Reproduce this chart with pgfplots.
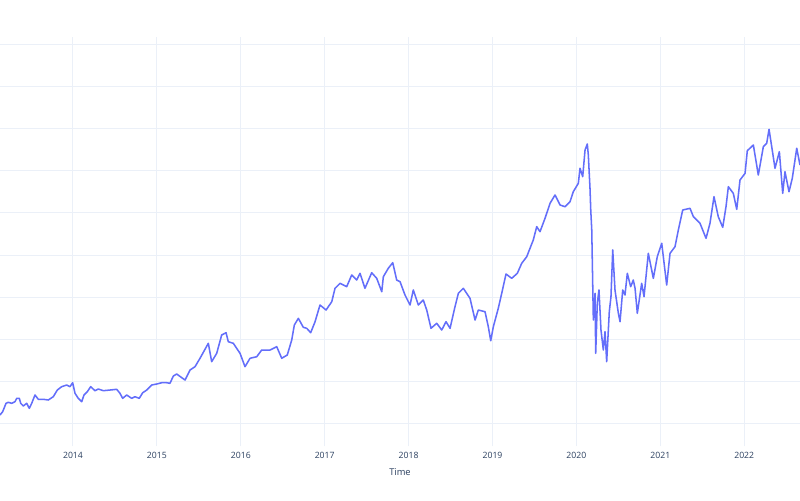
\documentclass[border=0pt]{standalone}
\usepackage{fontspec}
\setmainfont{Open Sans}
\usepackage{pgfplots}
\pgfplotsset{compat=1.18}
\definecolor{plline}{HTML}{636EFA}
\definecolor{plgrid}{HTML}{EBF0F8}
\definecolor{pltext}{HTML}{2A3F5F}
\begin{document}
\begin{tikzpicture}
\path[use as bounding box] (0,-40.5pt) rectangle (600pt,334.5pt);
\fill[white] (0,-40.5pt) rectangle (600pt,334.5pt);
\begin{axis}[
  at={(0,0)}, anchor=south west,
  scale only axis,
  width=600pt, height=306.75pt,
  xmin=2013.130, xmax=2022.665,
  ymin=4.71, ymax=101.74,
  axis line style={draw=none},
  xtick={2014,2015,2016,2017,2018,2019,2020,2021,2022},
  xticklabels={2014,2015,2016,2017,2018,2019,2020,2021,2022},
  ytick={10,20,30,40,50,60,70,80,90,100},
  yticklabels={},
  major tick length=0pt,
  grid=major,
  major grid style={draw=plgrid, line width=0.75pt},
  x tick label style={font=\fontsize{6.5}{7}\selectfont, text=pltext, anchor=center, yshift=-6.75pt},
  xlabel={Time},
  xlabel style={font=\fontsize{7}{8}\selectfont, text=pltext, at={(axis description cs:0.5,0)}, anchor=center, yshift=-19.5pt},
  clip=true,
]
\addplot[color=plline, line width=1.15pt, line join=round] coordinates {
(2013.130,12.06)(2013.162,12.85)(2013.202,14.84)(2013.229,15.07)(2013.269,14.84)
(2013.309,15.22)(2013.329,16.02)(2013.360,16.02)(2013.377,14.84)(2013.408,14.20)
(2013.448,14.84)(2013.479,13.65)(2013.508,14.84)(2013.547,16.81)(2013.587,15.79)
(2013.646,15.79)(2013.706,15.62)(2013.765,16.40)(2013.813,17.99)(2013.865,18.78)
(2013.925,19.18)(2013.964,18.78)(2013.996,19.72)(2014.024,17.21)(2014.063,16.02)
(2014.104,15.22)(2014.131,16.81)(2014.171,17.59)(2014.211,18.78)(2014.262,17.83)
(2014.302,18.23)(2014.361,17.83)(2014.441,17.99)(2014.521,18.16)(2014.560,17.21)
(2014.592,16.02)(2014.640,16.81)(2014.700,16.02)(2014.739,16.40)(2014.790,16.02)
(2014.831,17.35)(2014.879,17.99)(2014.938,19.18)(2014.998,19.42)(2015.057,19.72)
(2015.117,19.72)(2015.156,19.58)(2015.196,21.31)(2015.236,21.79)
(2015.335,20.36)(2015.395,22.74)(2015.454,23.52)(2015.514,25.52)
(2015.613,29.07)(2015.653,24.71)(2015.713,26.70)(2015.772,31.04)(2015.824,31.59)
(2015.851,29.45)(2015.911,29.07)(2015.991,26.70)(2016.050,23.52)(2016.110,25.52)
(2016.190,25.89)(2016.249,27.48)(2016.348,27.48)(2016.428,28.27)(2016.488,25.52)
(2016.554,26.30)(2016.607,29.85)(2016.638,33.41)(2016.686,35.00)(2016.745,32.87)
(2016.786,32.63)(2016.833,31.59)(2016.885,34.20)(2016.944,38.16)(2017.016,36.97)
(2017.084,38.94)(2017.123,42.12)(2017.183,43.31)(2017.262,42.50)(2017.322,45.28)
(2017.382,44.09)(2017.421,45.68)(2017.480,42.12)(2017.560,45.82)(2017.620,44.49)
(2017.680,41.31)(2017.699,44.87)(2017.758,46.87)(2017.811,48.20)(2017.858,44.09)
(2017.898,43.69)(2017.957,40.53)(2018.017,38.16)(2018.056,41.72)(2018.116,38.16)
(2018.175,39.34)(2018.216,36.97)(2018.267,32.63)(2018.335,33.82)(2018.395,32.23)
(2018.446,34.20)(2018.494,32.63)(2018.553,37.76)(2018.593,40.94)(2018.652,42.12)
(2018.732,39.75)(2018.792,34.60)(2018.831,36.97)(2018.911,36.57)(2018.950,33.01)
(2018.979,29.69)(2019.010,33.01)(2019.069,37.38)(2019.110,40.94)(2019.161,45.51)
(2019.229,44.49)(2019.296,45.68)(2019.348,48.05)(2019.408,49.62)(2019.447,51.61)
(2019.486,53.58)(2019.527,56.74)(2019.566,55.55)(2019.626,58.73)(2019.686,62.29)
(2019.745,64.26)(2019.805,61.88)(2019.864,61.48)(2019.924,62.67)(2019.963,65.04)
(2020.023,67.03)(2020.043,70.59)(2020.075,68.60)(2020.103,74.93)(2020.130,76.36)
(2020.142,73.75)(2020.162,65.85)(2020.171,60.70)(2020.183,55.95)(2020.202,34.60)
(2020.222,40.94)(2020.230,26.70)(2020.249,38.56)(2020.269,41.72)(2020.293,32.23)
(2020.321,27.48)(2020.341,31.82)(2020.361,24.71)(2020.392,36.57)(2020.412,40.13)
(2020.433,51.21)(2020.460,41.72)(2020.500,36.19)(2020.520,34.20)(2020.552,41.72)
(2020.579,40.53)(2020.607,45.68)(2020.647,42.50)(2020.678,44.09)(2020.699,42.12)
(2020.726,36.19)(2020.778,43.31)(2020.806,40.13)(2020.857,50.42)
(2020.917,44.49)(2020.964,49.62)(2021.017,52.80)(2021.076,42.90)(2021.116,50.42)
(2021.175,51.99)(2021.215,55.95)(2021.267,60.70)(2021.354,61.10)(2021.394,59.11)
(2021.473,57.54)(2021.545,53.98)(2021.592,57.54)(2021.640,63.85)(2021.691,59.11)
(2021.744,56.59)(2021.783,61.48)(2021.811,66.23)(2021.870,64.66)(2021.911,60.86)
(2021.950,67.81)(2022.010,69.40)(2022.037,74.77)(2022.109,76.12)(2022.168,69.00)
(2022.228,75.72)(2022.268,76.52)(2022.296,79.84)(2022.340,74.15)(2022.367,70.59)
(2022.419,74.53)(2022.459,64.66)(2022.486,69.78)(2022.534,65.04)(2022.573,68.22)
(2022.626,75.34)(2022.665,71.37)
};
\end{axis}
\end{tikzpicture}
\end{document}
